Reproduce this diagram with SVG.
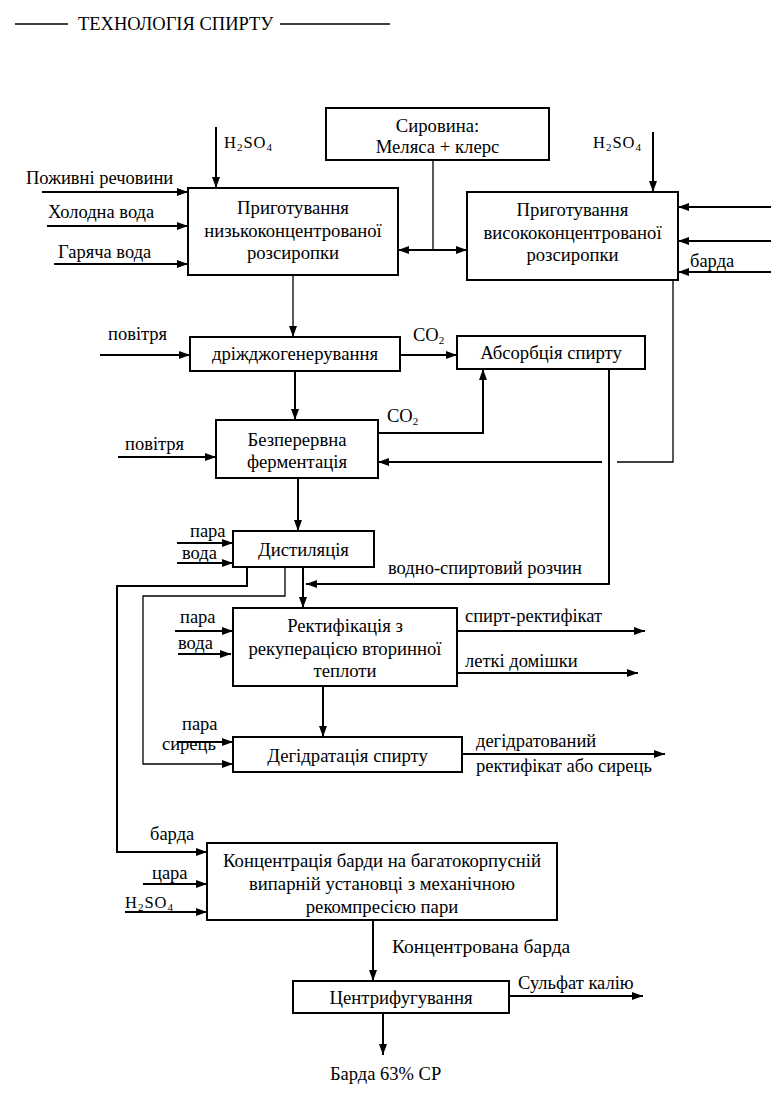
<svg xmlns="http://www.w3.org/2000/svg" width="771" height="1120" viewBox="0 0 771 1120">
<style>
text{font-family:"Liberation Serif","Times New Roman",serif;font-size:18.5px;fill:#000}
.c{text-anchor:middle;font-size:18.7px}
.box rect{fill:#fff;stroke:#000;stroke-width:2}
.ln path{fill:none;stroke:#000;stroke-width:2}
.ln path.t{stroke-width:1.3}
.sub{font-size:11px}
.h{font-size:16.5px;letter-spacing:1px}
</style>
<defs>
<marker id="a" viewBox="0 0 11 8" refX="11" refY="4" markerWidth="11" markerHeight="8" markerUnits="userSpaceOnUse" orient="auto"><path d="M0,0 L11,4 L0,8 z" fill="#000"/></marker>
</defs>
<rect width="771" height="1120" fill="#fff"/>
<g id="header">
<line x1="15" y1="24" x2="68" y2="24" stroke="#000" stroke-width="1.5"/>
<text x="78" y="30">ТЕХНОЛОГІЯ СПИРТУ</text>
<line x1="280" y1="24" x2="390" y2="24" stroke="#000" stroke-width="1.5"/>
</g>
<g class="ln" id="connectors">
<path d="M216,127 V188" marker-end="url(#a)"/>
<path d="M42,192 H188" marker-end="url(#a)"/>
<path d="M47,226 H188" marker-end="url(#a)"/>
<path d="M54,264 H188" marker-end="url(#a)"/>
<path class="t" d="M433,160 V250"/>
<path d="M433,250 H398" marker-end="url(#a)"/>
<path d="M433,250 H467" marker-end="url(#a)"/>
<path d="M653,132 V192" marker-end="url(#a)"/>
<path d="M771,207 H678" marker-end="url(#a)"/>
<path d="M771,241 H678" marker-end="url(#a)"/>
<path d="M771,272 H678" marker-end="url(#a)"/>
<path class="t" d="M293,275 V337" marker-end="url(#a)"/>
<path d="M100,355 H190" marker-end="url(#a)"/>
<path d="M400,355 H457" marker-end="url(#a)"/>
<path d="M295,371 V420" marker-end="url(#a)"/>
<path d="M378,433 H483 V369" marker-end="url(#a)"/>
<path class="t" d="M673,280 V462 H617"/>
<path d="M602,462 H378" marker-end="url(#a)"/>
<path d="M609,369 V584 H306" marker-end="url(#a)"/>
<path d="M118,457 H216" marker-end="url(#a)"/>
<path d="M298,478 V531" marker-end="url(#a)"/>
<path d="M177,543 H233" marker-end="url(#a)"/>
<path d="M177,563 H233" marker-end="url(#a)"/>
<path d="M247,567 V586 H117 V852 H207" marker-end="url(#a)"/>
<path class="t" d="M285,567 V596 H143 V764 H233" marker-end="url(#a)"/>
<path d="M303,567 V608" marker-end="url(#a)"/>
<path d="M175,631 H233" marker-end="url(#a)"/>
<path d="M178,654 H231" marker-end="url(#a)"/>
<path d="M457,631 H645" marker-end="url(#a)"/>
<path d="M457,673 H638" marker-end="url(#a)"/>
<path d="M323,686 V737" marker-end="url(#a)"/>
<path d="M177,742 H233" marker-end="url(#a)"/>
<path d="M462,754 H665" marker-end="url(#a)"/>
<path d="M143,884 H207" marker-end="url(#a)"/>
<path d="M125,912 H207" marker-end="url(#a)"/>
<path d="M373,920 V981" marker-end="url(#a)"/>
<path d="M509,996 H643" marker-end="url(#a)"/>
<path d="M383,1013 V1055" marker-end="url(#a)"/>
</g>
<g id="labels">
<text x="26" y="184">Поживні речовини</text>
<text x="48" y="218">Холодна вода</text>
<text x="58" y="258">Гаряча вода</text>
<text class="h" x="224" y="148">H<tspan class="sub" dy="3">2</tspan><tspan dy="-3">SO</tspan><tspan class="sub" dy="3">4</tspan></text>
<text class="h" x="593" y="148">H<tspan class="sub" dy="3">2</tspan><tspan dy="-3">SO</tspan><tspan class="sub" dy="3">4</tspan></text>
<text x="690" y="267">барда</text>
<text x="108" y="340">повітря</text>
<text x="413" y="341">CO<tspan class="sub" dy="3">2</tspan></text>
<text x="387" y="422">CO<tspan class="sub" dy="3">2</tspan></text>
<text x="125" y="450">повітря</text>
<text x="190" y="537">пара</text>
<text x="182" y="559">вода</text>
<text x="388" y="574">водно-спиртовий розчин</text>
<text x="180" y="623">пара</text>
<text x="178" y="649">вода</text>
<text x="465" y="622">спирт-ректифікат</text>
<text x="465" y="667">леткі домішки</text>
<text x="182" y="730">пара</text>
<text x="162" y="750">сирець</text>
<text x="476" y="747">дегідратований</text>
<text x="476" y="772">ректифікат або сирець</text>
<text x="150" y="840">барда</text>
<text x="152" y="879">цара</text>
<text class="h" x="125" y="908">H<tspan class="sub" dy="3">2</tspan><tspan dy="-3">SO</tspan><tspan class="sub" dy="3">4</tspan></text>
<text x="392" y="953" style="font-size:19.5px">Концентрована барда</text>
<text x="518" y="989">Сульфат калію</text>
<text x="330" y="1080">Барда 63% СР</text>
</g>
<g id="n-syrovyna" class="box"><rect x="326" y="108" width="223" height="52"/><text class="c" x="437.5" y="132">Сировина:</text><text class="c" x="437.5" y="153">Меляса + клерс</text></g>
<g id="n-low" class="box"><rect x="188" y="188" width="210" height="87"/><text class="c" x="293" y="214">Приготування</text><text class="c" x="293" y="237">низькоконцентрованої</text><text class="c" x="293" y="259">розсиропки</text></g>
<g id="n-high" class="box"><rect x="467" y="192" width="211" height="88"/><text class="c" x="572.5" y="216">Приготування</text><text class="c" x="572.5" y="239">висококонцентрованої</text><text class="c" x="572.5" y="261">розсиропки</text></g>
<g id="n-yeast" class="box"><rect x="190" y="337" width="210" height="34"/><text class="c" x="295" y="360">дріжджогенерування</text></g>
<g id="n-absorb" class="box"><rect x="457" y="336" width="188" height="33"/><text class="c" x="551" y="359">Абсорбція спирту</text></g>
<g id="n-ferm" class="box"><rect x="216" y="420" width="162" height="58"/><text class="c" x="297" y="446">Безперервна</text><text class="c" x="297" y="468">ферментація</text></g>
<g id="n-dist" class="box"><rect x="233" y="531" width="141" height="36"/><text class="c" x="303.5" y="556">Дистиляція</text></g>
<g id="n-rect" class="box"><rect x="233" y="608" width="224" height="78"/><text class="c" x="345" y="632">Ректифікація з</text><text class="c" x="345" y="655">рекуперацією вторинної</text><text class="c" x="345" y="677">теплоти</text></g>
<g id="n-dehyd" class="box"><rect x="233" y="737" width="229" height="35"/><text class="c" x="347.5" y="762">Дегідратація спирту</text></g>
<g id="n-conc" class="box"><rect x="207" y="843" width="350" height="77"/><text class="c" x="382" y="867">Концентрація барди на багатокорпусній</text><text class="c" x="382" y="890">випарній установці з механічною</text><text class="c" x="382" y="913">рекомпресією пари</text></g>
<g id="n-centr" class="box"><rect x="293" y="981" width="216" height="32"/><text class="c" x="401" y="1004">Центрифугування</text></g>
</svg>
